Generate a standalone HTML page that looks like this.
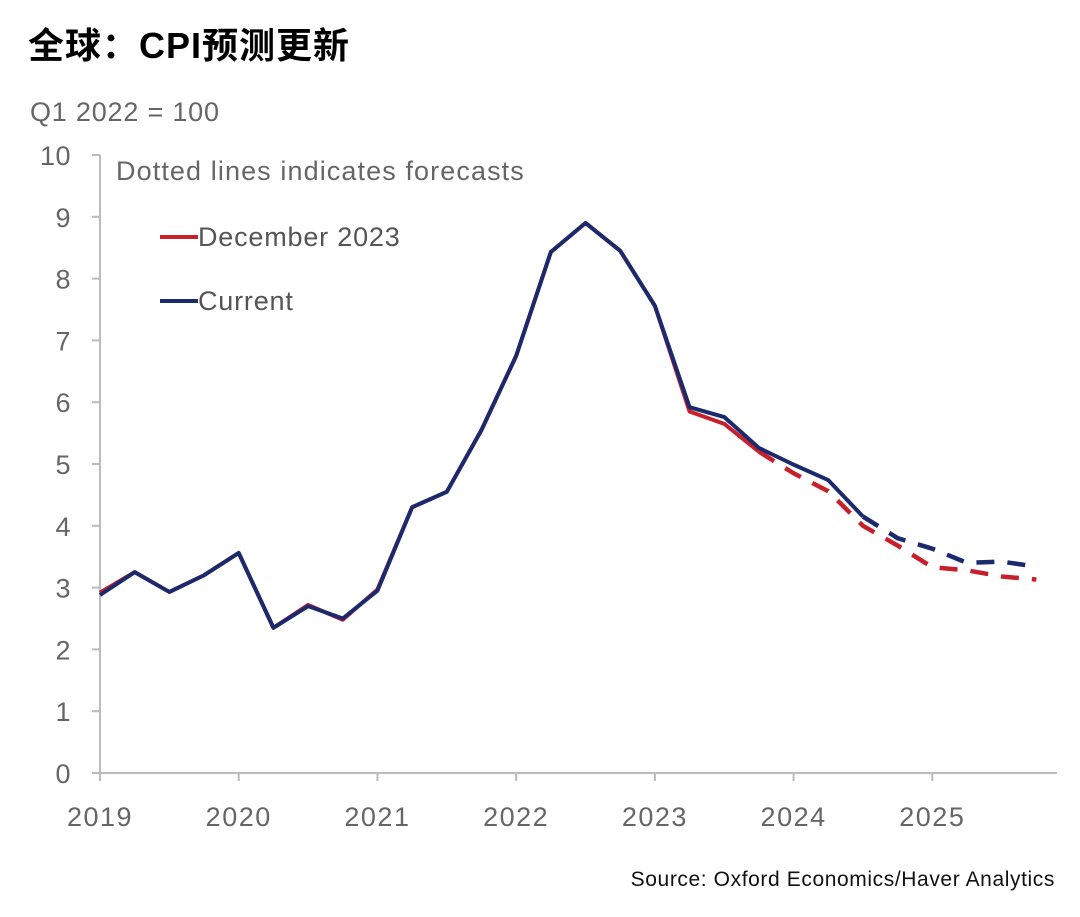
<!DOCTYPE html>
<html><head><meta charset="utf-8">
<style>
body{margin:0;background:#fff;width:1080px;height:912px;overflow:hidden;font-family:"Liberation Sans","Noto Sans CJK SC",sans-serif;}
</style></head><body>
<svg width="1080" height="912" xmlns="http://www.w3.org/2000/svg">
<text x="28" y="58" font-size="36" font-weight="bold" fill="#000" letter-spacing="1" font-family="'Liberation Sans','Noto Sans CJK SC',sans-serif">全球：CPI预测更新</text>
<text x="30" y="121" font-size="27" fill="#666" letter-spacing="0.8">Q1 2022 = 100</text>
<g id="axes"></g>
<g id="lines"></g>
<text x="116" y="180" font-size="27" fill="#666" letter-spacing="1.1">Dotted lines indicates forecasts</text>
<line x1="160" y1="237" x2="198" y2="237" stroke="#c8202a" stroke-width="4"/>
<text x="198" y="246" font-size="27" fill="#555" letter-spacing="0.8">December 2023</text>
<line x1="160" y1="301" x2="198" y2="301" stroke="#1a2a6c" stroke-width="4"/>
<text x="198" y="310" font-size="27" fill="#555" letter-spacing="0.8">Current</text>
<text x="1055" y="886" font-size="21" fill="#111" letter-spacing="0.6" text-anchor="end">Source: Oxford Economics/Haver Analytics</text>
</svg>
<script>
const yTicks=[0,1,2,3,4,5,6,7,8,9,10];
const xYears=["2019","2020","2021","2022","2023","2024","2025"];
const current=[2.88,3.25,2.93,3.2,3.56,2.35,2.7,2.5,2.95,4.3,4.55,5.55,6.75,8.43,8.9,8.45,7.56,5.92,5.76,5.26,4.99,4.74,4.15,3.8,3.63,3.4,3.42,3.34];
const dec2023=[2.92,3.25,2.93,3.2,3.56,2.35,2.72,2.48,2.97,4.3,4.55,5.55,6.75,8.43,8.9,8.45,7.56,5.85,5.65,5.2,4.85,4.56,4.0,3.68,3.33,3.28,3.18,3.13];
const currentSolidEnd=22, decSolidEnd=19;
const NS="http://www.w3.org/2000/svg";
const x0=100,qw=34.68,yb=773,yu=61.8;
const X=i=>x0+i*qw, Y=v=>yb-v*yu;
const axes=document.getElementById('axes'), lines=document.getElementById('lines');
function mk(tag,attrs,parent){const e=document.createElementNS(NS,tag);for(const k in attrs)e.setAttribute(k,attrs[k]);parent.appendChild(e);return e;}
const ya=mk('line',{x1:x0,y1:155,x2:x0,y2:yb,stroke:'#bbb','stroke-width':2},axes);


const xa=mk('line',{x1:x0,y1:yb,x2:1057,y2:yb,stroke:'#bbb','stroke-width':2},axes);


yTicks.forEach(v=>{
  mk('line',{x1:x0-8,y1:Y(v),x2:x0,y2:Y(v),stroke:'#bbb','stroke-width':2},axes);
  const t=mk('text',{x:71,y:Y(v)+10,'font-size':27,fill:'#666','text-anchor':'end','letter-spacing':0.5},axes);
  t.textContent=v;
  
  
});
xYears.forEach((yr,k)=>{
  const x=X(k*4);
  mk('line',{x1:x,y1:yb,x2:x,y2:yb+8,stroke:'#bbb','stroke-width':2},axes);
  const t=mk('text',{x:x,y:yb+53,'font-size':27,fill:'#666','text-anchor':'middle','letter-spacing':1.5},axes);
  t.textContent=yr;
  
  
});
function pts(arr,a,b){return arr.slice(a,b+1).map((v,i)=>X(a+i)+','+Y(v)).join(' ');}
function series(arr,end,color,name){
  const s=mk('polyline',{points:pts(arr,0,end),fill:'none',stroke:color,'stroke-width':4,'stroke-linejoin':'round'},lines);
  
  
  const d=mk('polyline',{points:pts(arr,end,arr.length-1),fill:'none',stroke:color,'stroke-width':4.5,'stroke-dasharray':'18 13','stroke-linejoin':'round'},lines);
  
  
}
series(dec2023,decSolidEnd,'#c8202a','dec-2023-line');
series(current,currentSolidEnd,'#1a2a6c','current-line');
</script>
</body></html>
